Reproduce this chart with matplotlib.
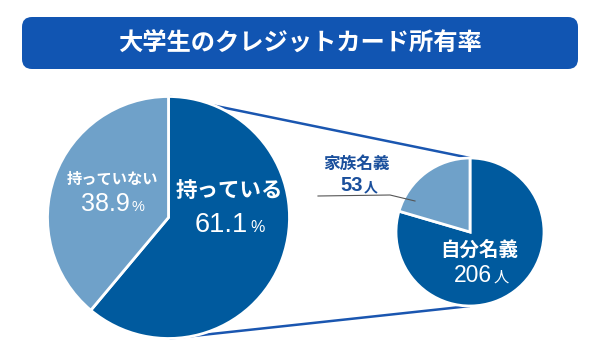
import matplotlib
matplotlib.use("Agg")
import matplotlib.pyplot as plt
from matplotlib.patches import FancyBboxPatch

plt.rcParams['font.family'] = ['Noto Sans CJK JP', 'DejaVu Sans']
NUMF = ['Liberation Sans', 'DejaVu Sans']

title = "大学生のクレジットカード所有率"
main_labels = ["持っている", "持っていない"]
main_values = [61.1, 38.9]
sub_labels = ["自分名義", "家族名義"]
sub_values = [206, 53]

DARK = "#005a9e"
LIGHT = "#6fa1c9"
BOX = "#1155b2"
LINE = "#1a56b0"
NAVY = "#1a4f9c"

W, H = 600, 360
fig = plt.figure(figsize=(6, 3.6), dpi=100)
ax = fig.add_axes([0, 0, 1, 1])

def Y(y):
    return H - y

# title box
box = FancyBboxPatch((22 + 10, Y(69) + 10), 556 - 20, 52 - 20,
                     boxstyle="round,pad=10", fc=BOX, ec="none")
ax.add_patch(box)
ax.text(300, Y(44), title, color="white", fontsize=17.5, fontweight="bold",
        ha="center", va="center")

# big pie
bc = (168.5, Y(217.5)); br = 121
ax.pie(main_values, colors=[DARK, LIGHT], startangle=90, counterclock=False,
       center=bc, radius=br, frame=True,
       wedgeprops=dict(edgecolor="white", linewidth=2))

# small pie
sc = (470, Y(232)); sr = 74
ax.pie(sub_values, colors=[DARK, LIGHT], startangle=90, counterclock=False,
       center=sc, radius=sr, frame=True,
       wedgeprops=dict(edgecolor="white", linewidth=2))

# connector lines
ax.plot([bc[0] + 1, sc[0]], [bc[1] + br, sc[1] + sr], color=LINE, lw=1.8,
        solid_capstyle="butt", zorder=0.5)
ax.plot([bc[0] + 1, sc[0]], [bc[1] - br, sc[1] - sr], color=LINE, lw=1.8,
        solid_capstyle="butt", zorder=0.5)

# labels on big pie
ax.text(229, Y(190), main_labels[0], color="white", fontsize=15.5,
        fontweight="bold", ha="center", va="center")
ax.text(248, Y(232), f"{main_values[0]:.1f}", color="white", fontsize=19.5,
        family=NUMF, ha="right", va="baseline")
ax.text(250, Y(232), "%", color="white", fontsize=11.5, family=NUMF,
        ha="left", va="baseline")

ax.text(112, Y(179), main_labels[1], color="white", fontsize=11,
        fontweight="bold", ha="center", va="center")
ax.text(130, Y(211), f"{main_values[1]:.1f}", color="white", fontsize=18,
        family=NUMF, ha="right", va="baseline")
ax.text(132, Y(211), "%", color="white", fontsize=10.5, family=NUMF,
        ha="left", va="baseline")

# labels on small pie
ax.text(479, Y(250), sub_labels[0], color="white", fontsize=14,
        fontweight="bold", ha="center", va="center")
ax.text(492, Y(282), f"{sub_values[0]}", color="white", fontsize=16.5,
        family=NUMF, ha="right", va="baseline")
ax.text(494, Y(282), "人", color="white", fontsize=11, ha="left", va="baseline")

ax.text(356, Y(164), sub_labels[1], color=NAVY, fontsize=12,
        fontweight="bold", ha="center", va="center")
ax.text(363, Y(191), f"{sub_values[1]}", color=NAVY, fontsize=14.5,
        family=NUMF, fontweight="bold", ha="right", va="baseline")
ax.text(364, Y(191), "人", color=NAVY, fontsize=10, fontweight="bold",
        ha="left", va="baseline")

# leader line
ax.plot([318, 390, 415], [Y(196), Y(195), Y(201)], color="#555555", lw=0.8,
        zorder=3)

ax.set_xlim(0, W)
ax.set_ylim(0, H)
ax.set_aspect("auto")
ax.axis("off")
fig.savefig("out.png", dpi=100, facecolor="white")
